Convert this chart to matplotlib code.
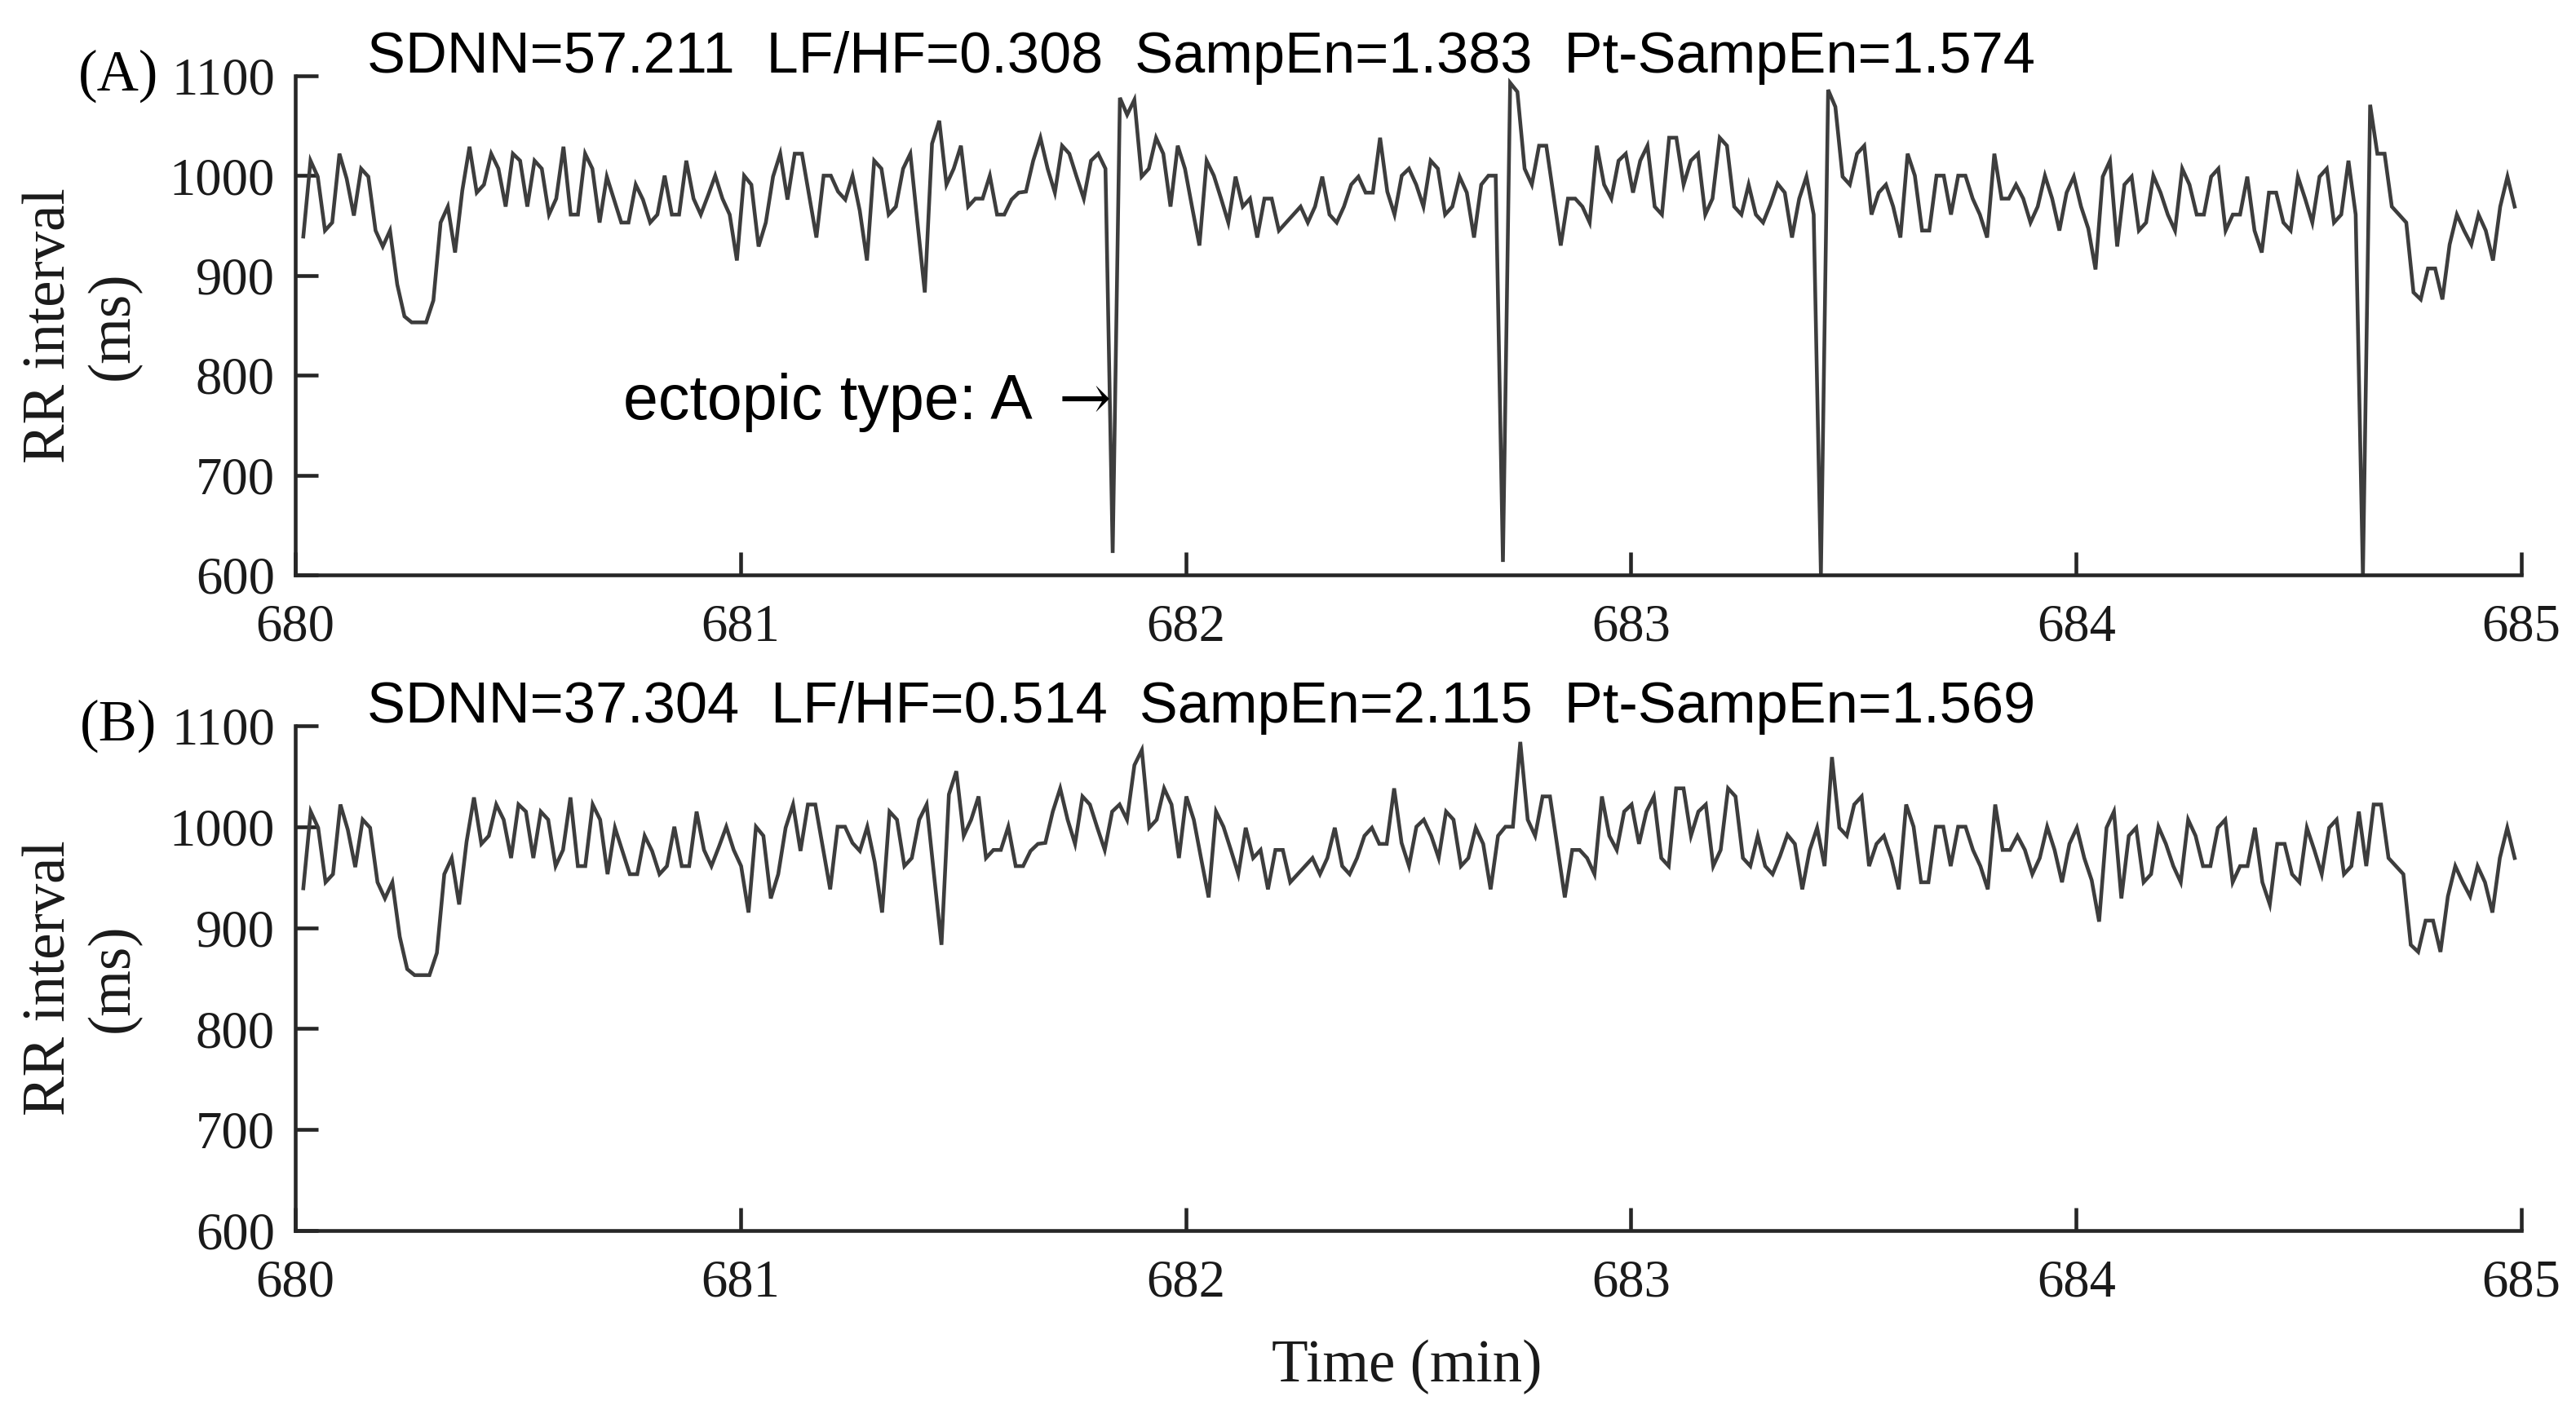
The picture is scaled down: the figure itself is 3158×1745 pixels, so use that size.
import matplotlib
matplotlib.use("Agg")
import matplotlib.pyplot as plt
import numpy as np

# ---------------- data ----------------
# corrected RR series (panel B), ms
RR_CORRECTED = [
    939, 1015, 999, 945, 953, 1022, 997, 960, 1007, 999,
    945, 929, 945, 891, 859, 853, 853, 853, 875, 953,
    969, 923, 985, 1029, 983, 991, 1022, 1007, 969, 1022,
    1015, 969, 1015, 1007, 961, 977, 1029, 961, 961, 1022,
    1007, 953, 999, 976, 953, 953, 991, 976, 953, 961,
    1000, 961, 961, 1015, 977, 961, 980, 1000, 977, 961,
    915, 1000, 991, 929, 953, 999, 1022, 976, 1022, 1022,
    980, 938, 1000, 1000, 984, 976, 1000, 965, 915, 1015,
    1007, 961, 969, 1007, 1022, 952, 883, 1032, 1055, 991,
    1007, 1030, 969, 977, 977, 1000, 961, 961, 976, 983,
    984, 1015, 1038, 1007, 983, 1030, 1022, 999, 977, 1015,
    1022, 1007, 1061, 1076, 999, 1007, 1038, 1022, 969, 1030,
    1007, 968, 930, 1015, 1000, 977, 953, 999, 969, 977,
    938, 977, 977, 945, 953, 961, 969, 953, 969, 999,
    961, 953, 969, 991, 999, 983, 983, 1038, 984, 961,
    1000, 1007, 991, 969, 1015, 1007, 961, 969, 999, 983,
    938, 991, 1000, 1000, 1084, 1007, 991, 1030, 1030, 980,
    930, 977, 977, 969, 953, 1030, 991, 977, 1015, 1022,
    983, 1015, 1030, 969, 961, 1038, 1038, 991, 1015, 1022,
    961, 977, 1038, 1030, 969, 961, 991, 961, 953, 971,
    992, 983, 938, 977, 999, 961, 1069, 999, 991, 1022,
    1030, 961, 983, 991, 969, 938, 1022, 1000, 945, 945,
    1000, 1000, 961, 1000, 1000, 977, 961, 938, 1022, 977,
    977, 991, 977, 953, 969, 1000, 977, 945, 983, 999,
    969, 947, 906, 999, 1015, 929, 991, 999, 945, 953,
    1000, 983, 961, 945, 1007, 991, 961, 961, 999, 1007,
    945, 961, 961, 999, 945, 923, 983, 983, 953, 945,
    999, 977, 953, 999, 1007, 953, 961, 1015, 961, 1022,
    1022, 969, 961, 953, 883, 876, 907, 907, 876, 931,
    961, 945, 931, 961, 945, 915, 969, 999, 969,
]
# ectopic beats present in the raw series (panel A)
ECTOPIC_POS = [112, 164, 206, 279]          # insertion index in corrected series
ECTOPIC_SHORT = [622, 613, 600, 598]         # premature RR (ms)
ECTOPIC_LONG = [1078, 1093, 1086, 1071]      # compensatory RR (ms)

T_START = 680.018   # min, first beat
T_END = 684.985     # min, last beat

X_TICKS = [680, 681, 682, 683, 684, 685]
Y_TICKS = [600, 700, 800, 900, 1000, 1100]

STATS_A = "SDNN=57.211  LF/HF=0.308  SampEn=1.383  Pt-SampEn=1.574"
STATS_B = "SDNN=37.304  LF/HF=0.514  SampEn=2.115  Pt-SampEn=1.569"
ECTOPIC_LABEL = "ectopic type: A"
ARROW = "\u2192"

# raw series = corrected series with the ectopic pairs
rr_raw = list(RR_CORRECTED)
for k in reversed(range(len(ECTOPIC_POS))):
    p = ECTOPIC_POS[k]
    rr_raw[p:p] = [ECTOPIC_SHORT[k], ECTOPIC_LONG[k]]

t_raw = np.linspace(T_START, T_END, len(rr_raw))
t_cor = np.linspace(T_START, T_END, len(RR_CORRECTED))

# ---------------- figure ----------------
plt.rcParams["font.family"] = ["Liberation Serif", "DejaVu Serif"]
SANS = ["Liberation Sans", "DejaVu Sans"]

W, H = 3158, 1745
fig = plt.figure(figsize=(W / 300, H / 300), dpi=300)
fig.patch.set_facecolor("white")


def rect(l, t, r, b):
    return [l / W, 1 - b / H, (r - l) / W, (b - t) / H]


ax_a = fig.add_axes(rect(362, 93, 3091, 705))
ax_b = fig.add_axes(rect(362, 890, 3091, 1509))

for ax, t, y in ((ax_a, t_raw, rr_raw), (ax_b, t_cor, RR_CORRECTED)):
    ax.plot(t, y, color="#3d3d3d", lw=1.1, solid_joinstyle="miter")
    ax.set_xlim(680, 685)
    ax.set_ylim(600, 1100)
    ax.set_xticks(X_TICKS)
    ax.set_yticks(Y_TICKS)
    for s in ("top", "right"):
        ax.spines[s].set_visible(False)
    for s in ("left", "bottom"):
        ax.spines[s].set_linewidth(1.1)
        ax.spines[s].set_color("#262626")
    ax.tick_params(direction="in", length=6.8, width=1.1, color="#262626",
                   labelsize=15.5, labelcolor="#1a1a1a")
    ax.tick_params(axis="y", pad=6)
    ax.tick_params(axis="x", pad=8.5)


def ftext(x, y, s, **kw):
    fig.text(x / W, 1 - y / H, s, **kw)


# panel letters
ftext(145, 93, "(A)", ha="center", va="center", fontsize=17)
ftext(145, 890, "(B)", ha="center", va="center", fontsize=17)

# y labels
ftext(100, 399, "RR interval\n(ms)", rotation=90, ha="center", va="center",
      fontsize=17.5, linespacing=1.2, color="#1a1a1a")
ftext(100, 1199, "RR interval\n(ms)", rotation=90, ha="center", va="center",
      fontsize=17.5, linespacing=1.2, color="#1a1a1a")

# x label
ftext(1725, 1676, "Time (min)", ha="center", va="center", fontsize=17.5,
      color="#1a1a1a")

# statistics
ftext(450, 89, STATS_A, ha="left", va="baseline", fontsize=16.9, family=SANS)
ftext(450, 886, STATS_B, ha="left", va="baseline", fontsize=16.9, family=SANS)

# ectopic annotation
ftext(1266, 514, ECTOPIC_LABEL, ha="right", va="baseline", fontsize=18.5,
      family=SANS)
ftext(1362, 514, ARROW, ha="right", va="baseline", fontsize=18.5,
      family=["DejaVu Serif"])

fig.savefig("out.png", dpi=300, facecolor="white")
